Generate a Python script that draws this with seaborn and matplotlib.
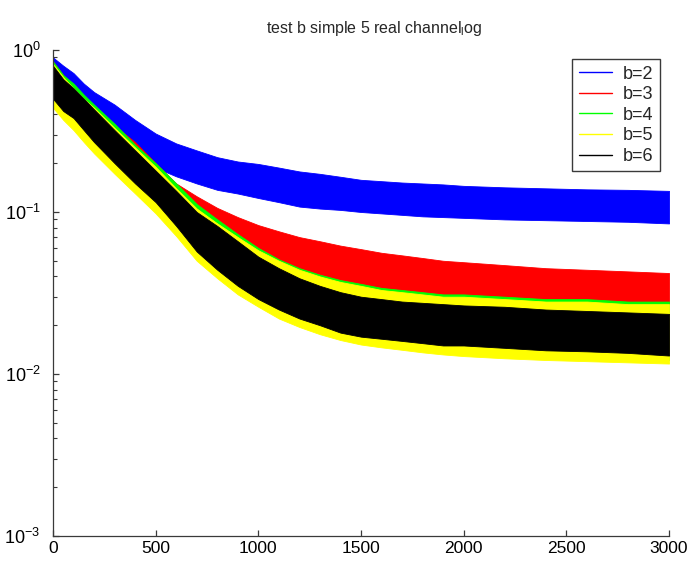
import numpy as np
import pandas as pd
import matplotlib
matplotlib.use("Agg")
import matplotlib.pyplot as plt
import seaborn as sns
from matplotlib.ticker import LogLocator, FixedLocator, NullFormatter

# ---- data (envelopes of the noisy curves) ----
iterations = [0, 50, 100, 150, 200, 300, 400, 500, 600, 700, 800, 900, 1000,
              1100, 1200, 1300, 1400, 1500, 1600, 1700, 1800, 1900, 2000,
              2200, 2400, 2600, 2800, 3000]

b2_hi = [0.90, 0.80, 0.72, 0.62, 0.55, 0.46, 0.37, 0.305, 0.265, 0.240, 0.218, 0.205, 0.198,
         0.188, 0.178, 0.172, 0.165, 0.158, 0.155, 0.152, 0.150, 0.148, 0.145,
         0.142, 0.140, 0.138, 0.137, 0.135]
b2_lo = [0.55, 0.48, 0.42, 0.36, 0.32, 0.27, 0.225, 0.188, 0.166, 0.150, 0.137, 0.130, 0.122,
         0.115, 0.108, 0.105, 0.103, 0.100, 0.098, 0.096, 0.094, 0.093, 0.092,
         0.090, 0.089, 0.088, 0.087, 0.085]

b3_hi = [0.85, 0.70, 0.60, 0.50, 0.44, 0.34, 0.27, 0.20, 0.150, 0.125, 0.106, 0.093, 0.083,
         0.076, 0.070, 0.066, 0.062, 0.059, 0.056, 0.054, 0.052, 0.050, 0.049,
         0.047, 0.045, 0.044, 0.043, 0.042]
b3_lo = [0.50, 0.42, 0.34, 0.28, 0.24, 0.19, 0.15, 0.11, 0.085, 0.070, 0.060, 0.053, 0.049,
         0.045, 0.042, 0.039, 0.037, 0.035, 0.033, 0.032, 0.031, 0.030, 0.029,
         0.028, 0.027, 0.026, 0.025, 0.025]

b4_hi = [0.85, 0.70, 0.62, 0.53, 0.46, 0.35, 0.26, 0.20, 0.15, 0.112, 0.090, 0.073, 0.060,
         0.051, 0.045, 0.041, 0.038, 0.036, 0.034, 0.033, 0.032, 0.031, 0.031,
         0.030, 0.029, 0.029, 0.028, 0.028]
b4_lo = [0.48, 0.40, 0.35, 0.30, 0.25, 0.185, 0.14, 0.106, 0.076, 0.053, 0.041, 0.033, 0.027,
         0.024, 0.021, 0.019, 0.0172, 0.0160, 0.0153, 0.0148, 0.0143, 0.0140, 0.0137,
         0.0133, 0.0130, 0.0127, 0.0124, 0.0122]

b5_hi = [0.82, 0.68, 0.58, 0.50, 0.44, 0.33, 0.25, 0.19, 0.14, 0.105, 0.085, 0.070, 0.058,
         0.050, 0.044, 0.040, 0.037, 0.035, 0.033, 0.032, 0.031, 0.030, 0.030,
         0.029, 0.028, 0.028, 0.027, 0.027]
b5_lo = [0.44, 0.37, 0.32, 0.27, 0.23, 0.172, 0.130, 0.098, 0.071, 0.050, 0.039, 0.031, 0.026,
         0.022, 0.0195, 0.0176, 0.0162, 0.0152, 0.0146, 0.0141, 0.0136, 0.0132, 0.0129,
         0.0125, 0.0122, 0.0120, 0.0118, 0.0116]

b6_hi = [0.80, 0.66, 0.58, 0.50, 0.43, 0.32, 0.24, 0.18, 0.135, 0.100, 0.082, 0.066, 0.053,
         0.045, 0.039, 0.035, 0.032, 0.030, 0.029, 0.028, 0.0275, 0.027, 0.0265,
         0.026, 0.025, 0.0245, 0.024, 0.0235]
b6_lo = [0.50, 0.42, 0.38, 0.32, 0.27, 0.20, 0.15, 0.115, 0.082, 0.057, 0.044, 0.035, 0.029,
         0.025, 0.022, 0.020, 0.018, 0.017, 0.0165, 0.016, 0.0155, 0.015, 0.015,
         0.0145, 0.014, 0.0138, 0.0135, 0.013]

labels = ["b=2", "b=3", "b=4", "b=5", "b=6"]
colors = ["#0000ff", "#ff0000", "#00ff00", "#ffff00", "#000000"]
x_ticks = [0, 500, 1000, 1500, 2000, 2500, 3000]
title = "test b simple 5 real channel$_\\mathregular{l}$og"

highs = [b2_hi, b3_hi, b4_hi, b5_hi, b6_hi]
lows = [b2_lo, b3_lo, b4_lo, b5_lo, b6_lo]

rows = []
for lab, hi, lo in zip(labels, highs, lows):
    for it, h, l in zip(iterations, hi, lo):
        rows.append((it, h, lab))
        rows.append((it, l, lab))
df = pd.DataFrame(rows, columns=["iteration", "error", "b"])

# ---- style ----
sns.set_style("ticks")
plt.rcParams['font.family'] = ['Liberation Sans', 'DejaVu Sans']
plt.rcParams['mathtext.fontset'] = 'custom'
plt.rcParams['mathtext.rm'] = 'Liberation Sans'
plt.rcParams['mathtext.it'] = 'Liberation Sans'

axis_col = '#3a3a3a'
fig = plt.figure(figsize=(6.91, 5.61), dpi=100)
ax = fig.add_axes([53 / 691, 25 / 561, 616 / 691, 486 / 561])
ax.set_yscale('log')

sns.lineplot(data=df, x="iteration", y="error", hue="b", hue_order=labels,
             palette=dict(zip(labels, colors)), estimator="mean",
             errorbar=("pi", 100),
             err_kws=dict(alpha=1, zorder=2, linewidth=0.6),
             linewidth=0.8, ax=ax)

ax.set_xlim(0, 3000)
ax.set_ylim(1e-3, 1)
ax.xaxis.set_major_locator(FixedLocator(x_ticks))
ax.yaxis.set_major_locator(LogLocator(base=10, numticks=10))
ax.yaxis.set_minor_locator(LogLocator(base=10, subs=np.arange(2, 10), numticks=20))
ax.yaxis.set_minor_formatter(NullFormatter())
ax.set_xlabel("")
ax.set_ylabel("")

sns.despine(ax=ax)
for s in ("left", "bottom"):
    ax.spines[s].set_color(axis_col)
    ax.spines[s].set_linewidth(0.9)
ax.tick_params(axis='both', which='major', direction='in', length=4.3, width=0.9,
               color=axis_col, labelsize=12.5, labelcolor='black')
ax.tick_params(axis='y', which='minor', direction='in', length=2.8, width=0.8,
               color=axis_col)
ax.tick_params(axis='y', which='major', pad=9, labelsize=13)
ax.tick_params(axis='x', which='major', pad=3.5)

ax.set_title(title, fontsize=11.5, pad=12, x=0.522)

handles, _ = ax.get_legend_handles_labels()
leg = ax.legend(handles=handles, labels=labels, loc='upper right',
                bbox_to_anchor=(0.985, 0.981), fontsize=13, frameon=True,
                fancybox=False, framealpha=1, edgecolor=axis_col,
                handlelength=1.85, handletextpad=0.6, labelspacing=0.2,
                borderpad=0.35, borderaxespad=0)
leg.get_frame().set_linewidth(1.0)
for line in leg.get_lines():
    line.set_linewidth(1.0)

fig.savefig("out.png", dpi=100)
